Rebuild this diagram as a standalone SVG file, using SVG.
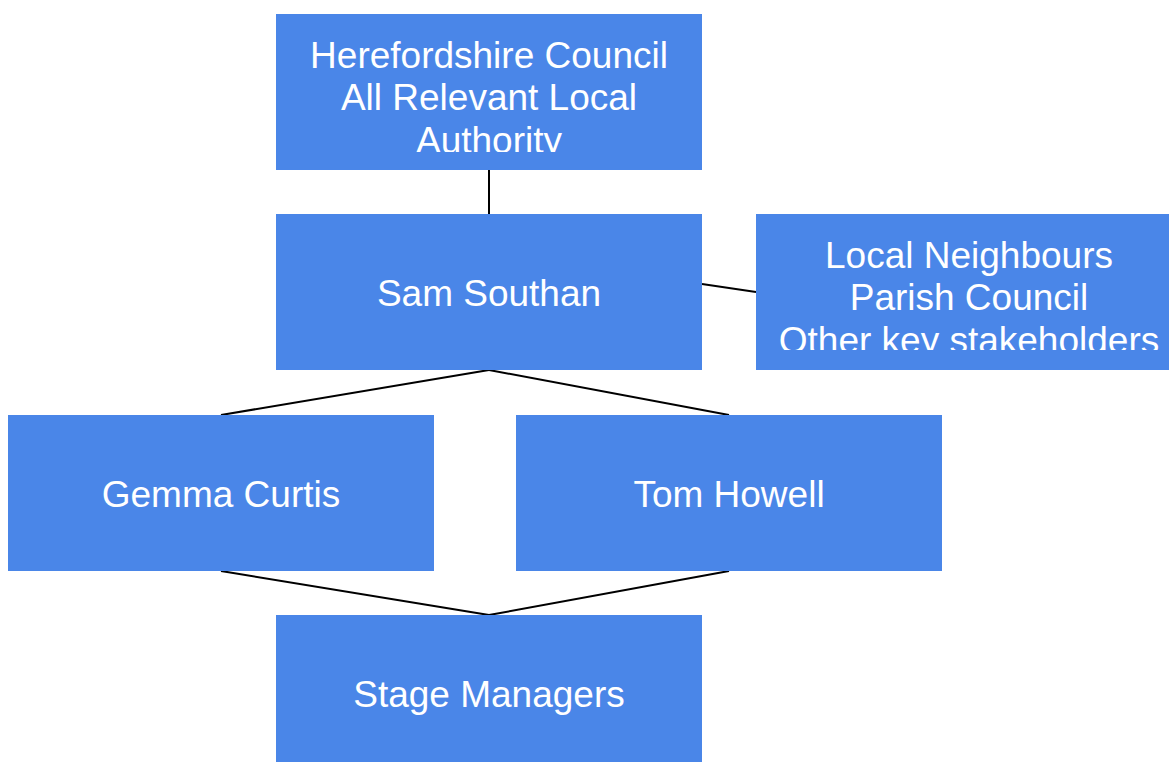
<svg xmlns="http://www.w3.org/2000/svg" width="1169" height="762" viewBox="0 0 1169 762">
<style>
.box{fill:#4a86e8}
.t{font-family:"Liberation Sans",Arial,sans-serif;font-size:37px;fill:#ffffff;text-anchor:middle}
.c{stroke:#000;stroke-width:2;fill:none}
</style>
<defs>
<clipPath id="clipTop"><rect x="276" y="14" width="426" height="138"/></clipPath>
<clipPath id="clipLocal"><rect x="756" y="214" width="426" height="136"/></clipPath>
</defs>
<rect width="1169" height="762" fill="#ffffff"/>
<g id="connectors">
<line class="c" x1="489" y1="170" x2="489" y2="214"/>
<line class="c" x1="702" y1="284" x2="756" y2="292"/>
<line class="c" x1="489" y1="370" x2="221" y2="415"/>
<line class="c" x1="489" y1="370" x2="729" y2="415"/>
<line class="c" x1="221" y1="571" x2="489" y2="615"/>
<line class="c" x1="729" y1="571" x2="489" y2="615"/>
</g>
<g id="node-herefordshire">
<rect class="box" x="276" y="14" width="426" height="156"/>
<text class="t" clip-path="url(#clipTop)"><tspan x="489" y="67.5">Herefordshire Council</tspan><tspan x="489" y="110">All Relevant Local</tspan><tspan x="489" y="152.5">Authority</tspan></text>
</g>
<g id="node-sam">
<rect class="box" x="276" y="214" width="426" height="156"/>
<text class="t" x="489" y="306">Sam Southan</text>
</g>
<g id="node-local">
<rect class="box" x="756" y="214" width="426" height="156"/>
<text class="t" clip-path="url(#clipLocal)"><tspan x="969" y="267.5">Local Neighbours</tspan><tspan x="969" y="310">Parish Council</tspan><tspan x="969" y="352.5">Other key stakeholders</tspan></text>
</g>
<g id="node-gemma">
<rect class="box" x="8" y="415" width="426" height="156"/>
<text class="t" x="221" y="507">Gemma Curtis</text>
</g>
<g id="node-tom">
<rect class="box" x="516" y="415" width="426" height="156"/>
<text class="t" x="729" y="507">Tom Howell</text>
</g>
<g id="node-stage">
<rect class="box" x="276" y="615" width="426" height="156"/>
<text class="t" x="489" y="707">Stage Managers</text>
</g>
</svg>
